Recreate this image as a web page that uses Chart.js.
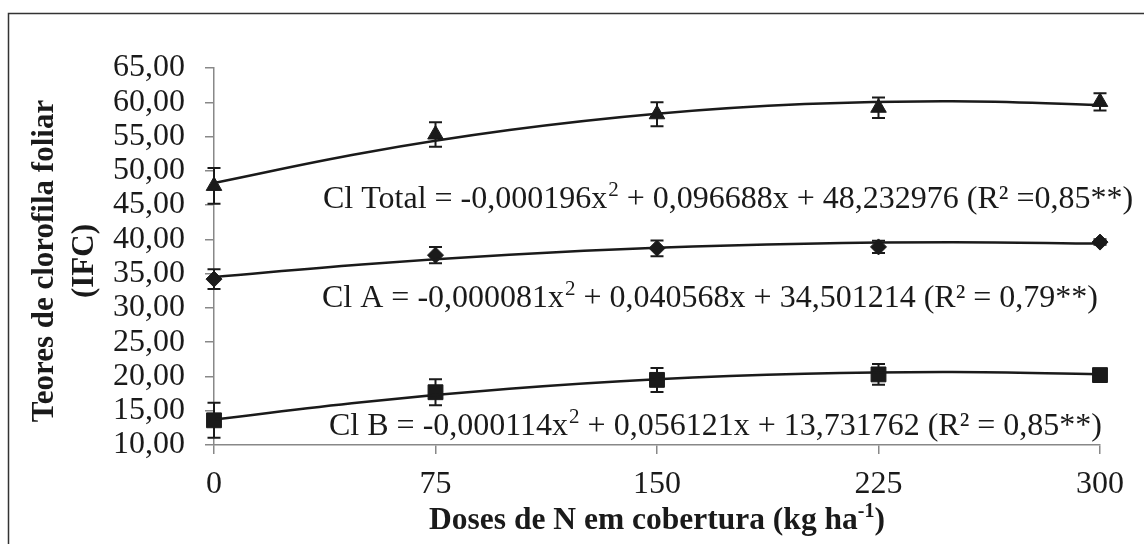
<!DOCTYPE html>
<html>
<head>
<meta charset="utf-8">
<script src="https://cdn.jsdelivr.net/npm/chart.js@4"></script>
<style>
  html, body { margin: 0; padding: 0; background: #fff; }
  #wrap { width: 1144px; height: 544px; }
</style>
</head>
<body>
<div id="wrap"><canvas id="chart" width="1144" height="544"></canvas></div>
<script>
// doses de N (kg/ha)
const doses = [0, 75, 150, 225, 300];

// medias observadas e barras de erro
const clTotal = [47.8, 55.3, 58.25, 59.2, 60.05];
const clTotalErr = [2.6, 1.8, 1.75, 1.5, 1.25];
const clA = [34.2, 37.7, 38.7, 38.9, 39.6];
const clAErr = [1.45, 1.2, 1.15, 0.9, 0.4];
const clB = [13.6, 17.7, 19.5, 20.3, 20.2];
const clBErr = [2.55, 1.9, 1.75, 1.5, 0.9];

// curvas ajustadas
const fitX = [0, 50, 100, 150, 200, 250, 300];
const fitTotal = [48.23, 52.57, 55.94, 58.32, 59.73, 60.15, 59.60];
const fitA = [34.50, 36.33, 37.75, 38.77, 39.37, 39.58, 39.38];
const fitB = [13.73, 16.25, 18.20, 19.59, 20.39, 20.64, 20.31];

const yTicks = [10, 15, 20, 25, 30, 35, 40, 45, 50, 55, 60, 65];

const equations = [
    { y: 44.6, parts: ['Cl Total = -0,000196x', '2', ' + 0,096688x + 48,232976 (R² =0,85**)'] },
    { y: 30.1, parts: ['Cl A = -0,000081x', '2', ' + 0,040568x + 34,501214 (R² = 0,79**)'] },
    { y: 11.4, parts: ['Cl B = -0,000114x', '2', ' + 0,056121x + 13,731762 (R² = 0,85**)'] }
];
const eqStartX = [323, 322, 329];

const serif = '"Liberation Serif", "Times New Roman", serif';
const ink = '#1a1a1a';

function pts(xs, ys) {
    return xs.map((x, i) => ({ x: x, y: ys[i] }));
}

const errorBars = {
    id: 'errorBars',
    afterDatasetsDraw(chart) {
        const { ctx, scales: { x, y } } = chart;
        const sets = [[clTotal, clTotalErr], [clA, clAErr], [clB, clBErr]];
        ctx.save();
        ctx.strokeStyle = ink;
        ctx.lineWidth = 2;
        sets.forEach(([vals, errs]) => {
            vals.forEach((v, i) => {
                const px = x.getPixelForValue(doses[i]);
                const top = y.getPixelForValue(v + errs[i]);
                const bot = y.getPixelForValue(v - errs[i]);
                ctx.beginPath();
                ctx.moveTo(px, top);
                ctx.lineTo(px, bot);
                ctx.moveTo(px - 6.5, top);
                ctx.lineTo(px + 6.5, top);
                ctx.moveTo(px - 6.5, bot);
                ctx.lineTo(px + 6.5, bot);
                ctx.stroke();
            });
        });
        ctx.restore();
    }
};

const annotations = {
    id: 'annotations',
    afterDraw(chart) {
        const { ctx, scales: { y } } = chart;
        ctx.save();
        // moldura externa
        ctx.strokeStyle = '#333';
        ctx.lineWidth = 1.5;
        ctx.strokeRect(8.5, 13.5, 1200, 600);

        ctx.fillStyle = ink;
        ctx.textBaseline = 'alphabetic';
        ctx.textAlign = 'left';
        equations.forEach((eq, k) => {
            let cx = eqStartX[k];
            const by = y.getPixelForValue(eq.y);
            ctx.font = '32px ' + serif;
            ctx.fillText(eq.parts[0], cx, by);
            cx += ctx.measureText(eq.parts[0]).width;
            ctx.font = '21px ' + serif;
            ctx.fillText(eq.parts[1], cx + 1, by - 12);
            cx += ctx.measureText(eq.parts[1]).width + 1;
            ctx.font = '32px ' + serif;
            ctx.fillText(eq.parts[2], cx, by);
        });

        // titulo eixo x com sobrescrito
        const main = 'Doses de N em cobertura (kg ha';
        const sup = '-1';
        const end = ')';
        ctx.font = 'bold 31.5px ' + serif;
        const w1 = ctx.measureText(main).width;
        const w3 = ctx.measureText(end).width;
        ctx.font = 'bold 20px ' + serif;
        const w2 = ctx.measureText(sup).width;
        let sx = 657 - (w1 + w2 + w3) / 2;
        const sy = 529;
        ctx.font = 'bold 31.5px ' + serif;
        ctx.fillText(main, sx, sy);
        ctx.font = 'bold 20px ' + serif;
        ctx.fillText(sup, sx + w1, sy - 12);
        ctx.font = 'bold 31.5px ' + serif;
        ctx.fillText(end, sx + w1 + w2, sy);

        // titulo eixo y em duas linhas
        ctx.translate(0, 261);
        ctx.rotate(-Math.PI / 2);
        ctx.textAlign = 'center';
        ctx.font = 'bold 31px ' + serif;
        ctx.fillText('Teores de clorofila foliar', 0, 53);
        ctx.fillText('(IFC)', 0, 93);
        ctx.restore();
    }
};

new Chart(document.getElementById('chart'), {
    type: 'scatter',
    data: {
        datasets: [
            {
                type: 'line', data: pts(fitX, fitTotal), borderColor: ink, borderWidth: 2.5,
                pointRadius: 0, tension: 0.4, fill: false
            },
            {
                type: 'line', data: pts(fitX, fitA), borderColor: ink, borderWidth: 2.5,
                pointRadius: 0, tension: 0.4, fill: false
            },
            {
                type: 'line', data: pts(fitX, fitB), borderColor: ink, borderWidth: 2.5,
                pointRadius: 0, tension: 0.4, fill: false
            },
            {
                data: pts(doses, clTotal), pointStyle: 'triangle', pointRadius: 9,
                backgroundColor: ink, borderColor: ink, borderWidth: 1, clip: false
            },
            {
                data: pts(doses, clA), pointStyle: 'rectRot', pointRadius: 8,
                backgroundColor: ink, borderColor: ink, borderWidth: 1, clip: false
            },
            {
                data: pts(doses, clB), pointStyle: 'rect', pointRadius: 10.5,
                backgroundColor: ink, borderColor: ink, borderWidth: 1, clip: false
            }
        ]
    },
    options: {
        responsive: false,
        animation: false,
        layout: { padding: { left: 0, right: 44, top: 68, bottom: 0 } },
        plugins: {
            legend: { display: false },
            tooltip: { enabled: false }
        },
        scales: {
            x: {
                type: 'linear',
                min: 0,
                max: 300,
                afterBuildTicks: (axis) => { axis.ticks = doses.map(v => ({ value: v })); },
                afterFit: (axis) => { axis.height = 99; },
                border: { display: true, color: '#888', width: 1.5 },
                grid: { drawOnChartArea: false, drawTicks: true, tickLength: 9, color: '#888', lineWidth: 1.5 },
                ticks: {
                    color: ink,
                    padding: 11,
                    autoSkip: false,
                    maxRotation: 0,
                    font: { family: serif, size: 32 }
                }
            },
            y: {
                min: 10,
                max: 65,
                afterBuildTicks: (axis) => { axis.ticks = yTicks.map(v => ({ value: v })); },
                afterFit: (axis) => { axis.width = 214; },
                border: { display: true, color: '#888', width: 1.5 },
                grid: { drawOnChartArea: false, drawTicks: true, tickLength: 9, color: '#888', lineWidth: 1.5 },
                ticks: {
                    color: ink,
                    padding: 20,
                    autoSkip: false,
                    font: { family: serif, size: 32 },
                    callback: (v) => v.toFixed(2).replace('.', ',')
                }
            }
        }
    },
    plugins: [errorBars, annotations]
});
</script>
</body>
</html>
